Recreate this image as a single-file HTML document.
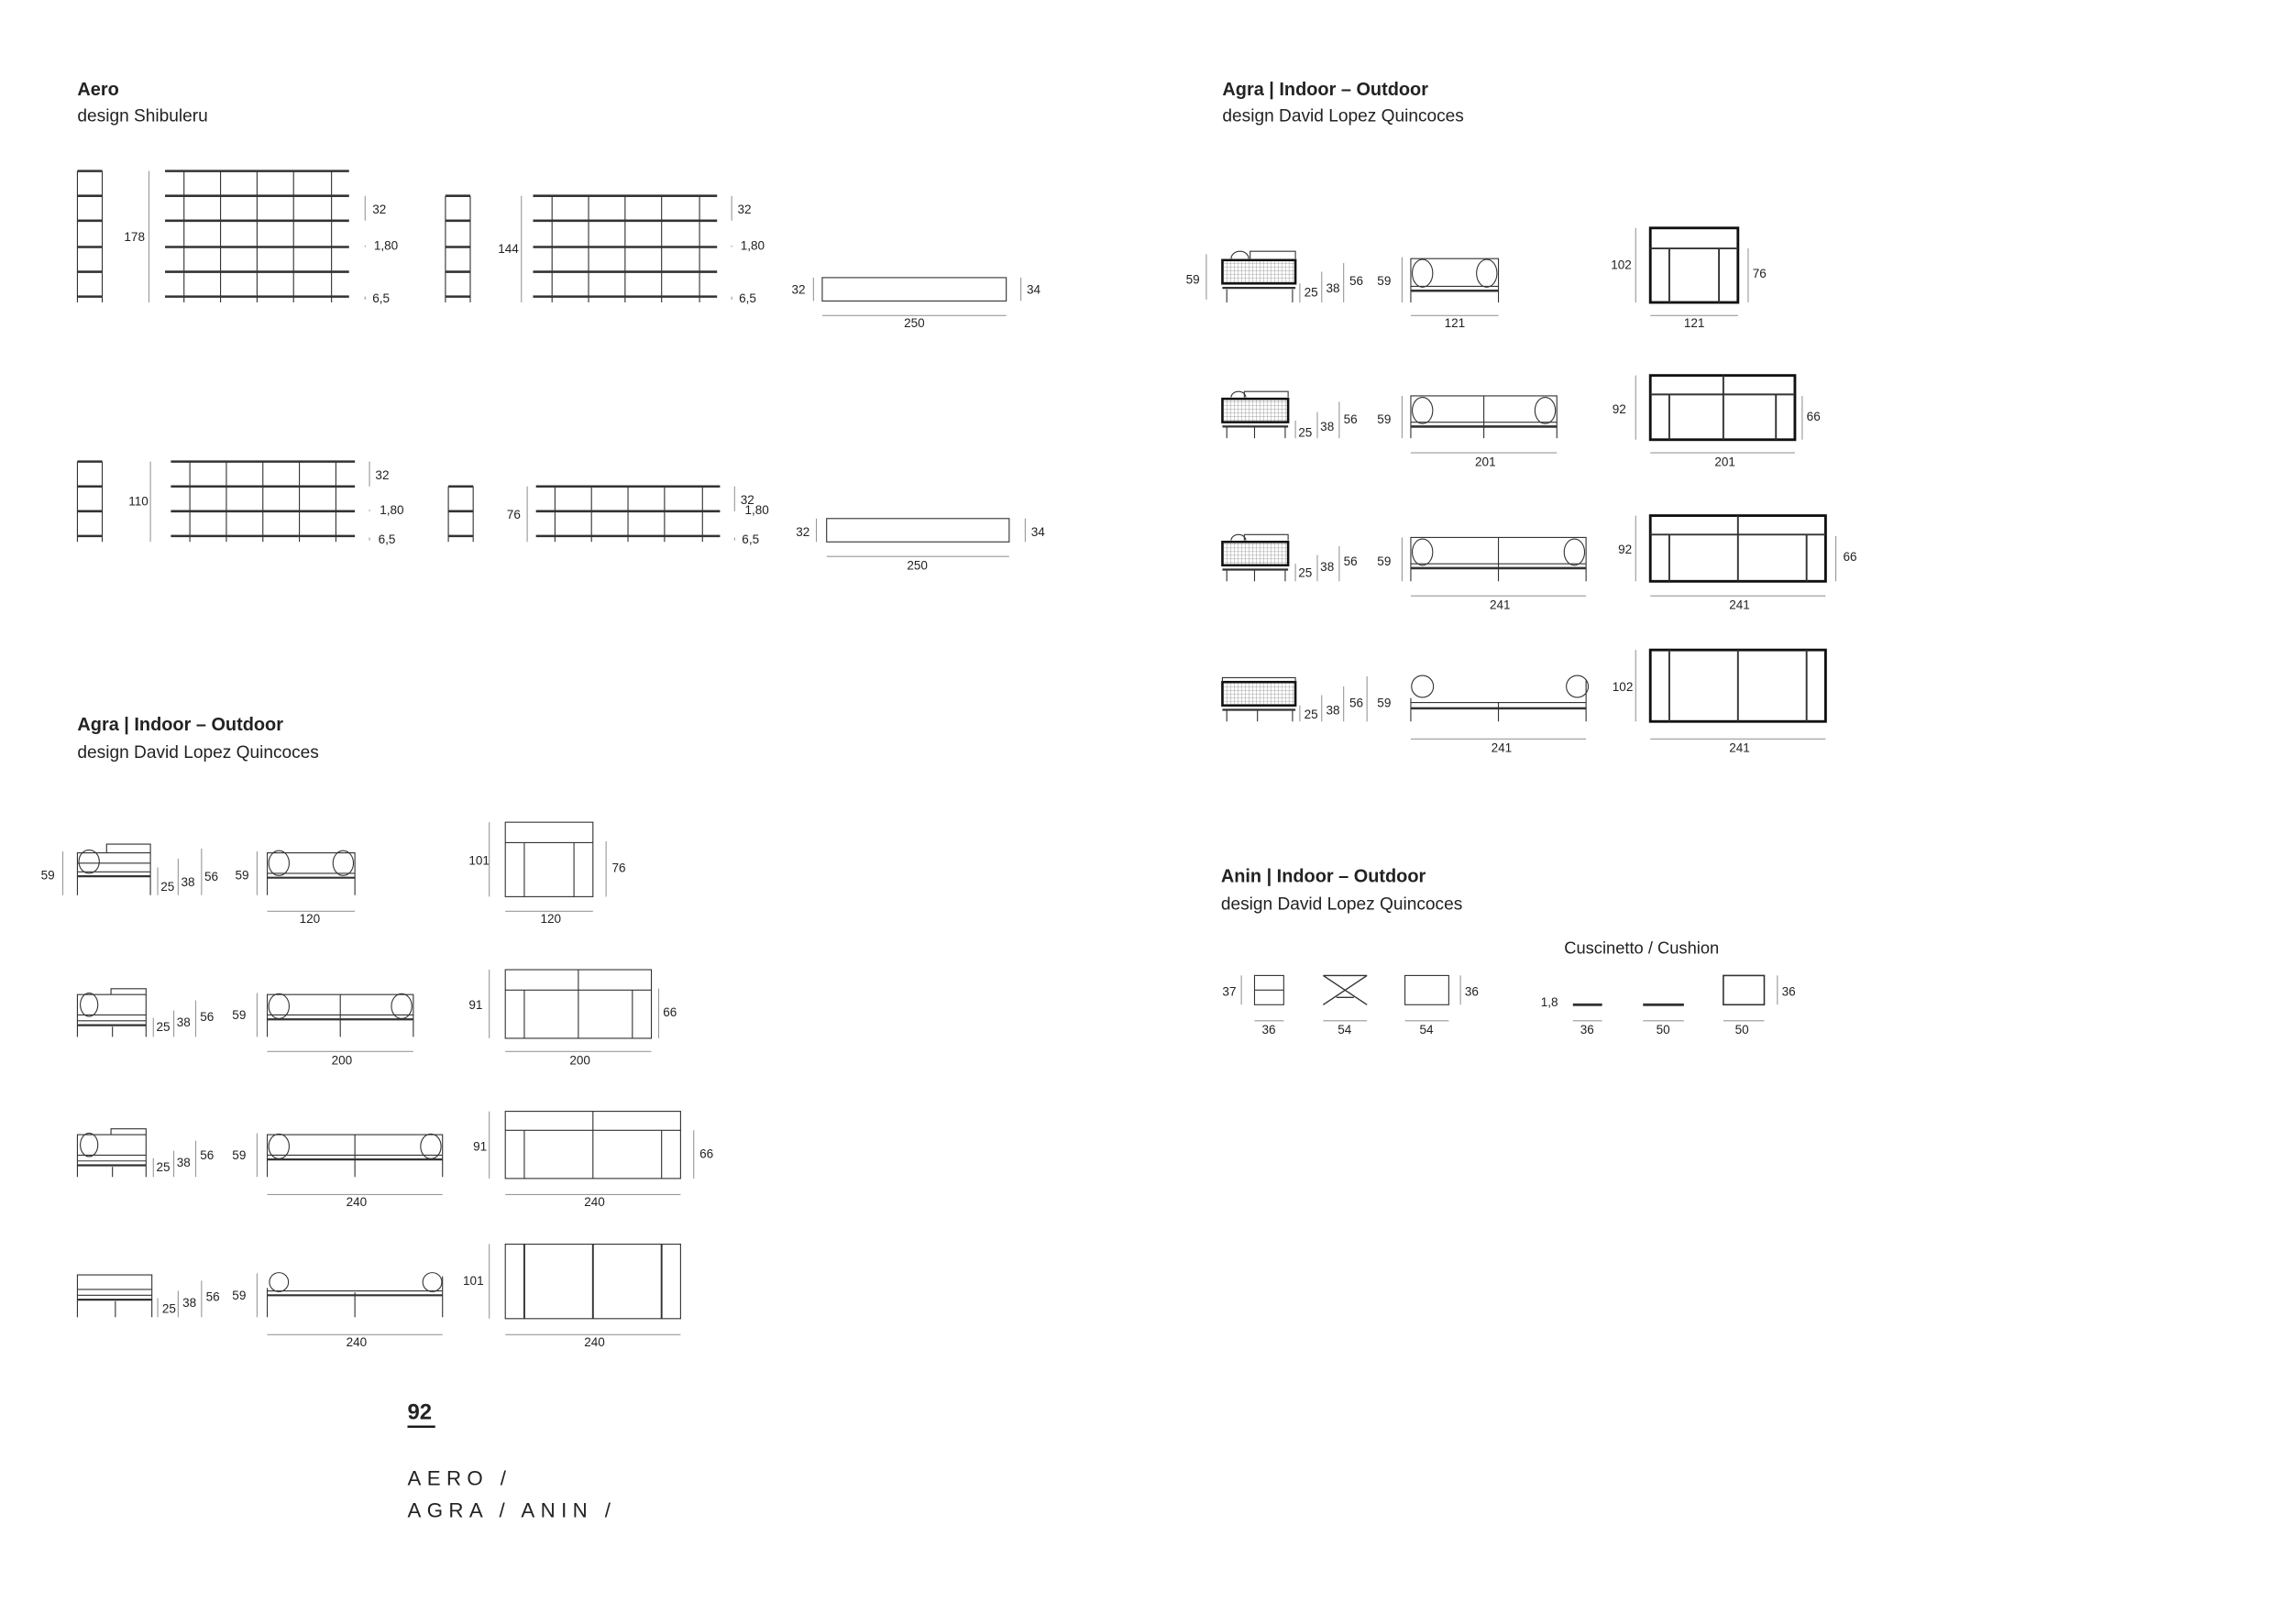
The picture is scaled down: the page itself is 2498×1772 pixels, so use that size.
<!DOCTYPE html>
<html><head><meta charset="utf-8"><style>
html,body{margin:0;padding:0;background:#fff}
svg{display:block}
text{font-family:"Liberation Sans",sans-serif;fill:#222}
.l{font-size:8.5px}
.t{font-size:12.5px;font-weight:bold;fill:#111}
.d{font-size:12px}
</style></head><body>
<svg width="2498" height="1772" viewBox="0 0 1568 1112" xmlns="http://www.w3.org/2000/svg">
<defs>
<pattern id="cane" width="2.5" height="2.5" patternUnits="userSpaceOnUse"><path d="M0 0H2.5M0 0V2.5" stroke="#888" stroke-width="0.5"/></pattern>
</defs>
<g fill="none" stroke="#333" stroke-width="0.7">
<path d="M53 117V207M70 117V207"/>
<path stroke-width="1.6" d="M53 117H70M53 134H70M53 151H70M53 169H70M53 186H70M53 203H70"/>
<path stroke="#999" d="M102 117V207"/>
<path d="M126 117V207M151 117V207M176 117V207M201 117V207M227 117V207"/>
<path stroke-width="1.6" d="M113 117H239M113 134H239M113 151H239M113 169H239M113 186H239M113 203H239"/>
<path stroke="#999" d="M250 134V151M250 168V169M250 203V205"/>
<path d="M305 134V207M322 134V207"/>
<path stroke-width="1.6" d="M305 134H322M305 151H322M305 169H322M305 186H322M305 203H322"/>
<path stroke="#999" d="M357 134V207"/>
<path d="M378 134V207M403 134V207M428 134V207M453 134V207M479 134V207"/>
<path stroke-width="1.6" d="M365 134H491M365 151H491M365 169H491M365 186H491M365 203H491"/>
<path stroke="#999" d="M501 134V151M501 168V169M501 203V205"/>
<rect x="563" y="190" width="126" height="16"/>
<path stroke="#999" d="M557 190V206M699 190V206M563 216H689"/>
<path d="M53 316V371M70 316V371"/>
<path stroke-width="1.6" d="M53 316H70M53 333H70M53 350H70M53 367H70"/>
<path stroke="#999" d="M103 316V371"/>
<path d="M130 316V371M155 316V371M180 316V371M205 316V371M230 316V371"/>
<path stroke-width="1.6" d="M117 316H243M117 333H243M117 350H243M117 367H243"/>
<path stroke="#999" d="M253 316V333M253 349V350M253 368V370"/>
<path d="M307 333V371M324 333V371"/>
<path stroke-width="1.6" d="M307 333H324M307 350H324M307 367H324"/>
<path stroke="#999" d="M361 333V371"/>
<path d="M380 333V371M405 333V371M430 333V371M455 333V371M481 333V371"/>
<path stroke-width="1.6" d="M367 333H493M367 350H493M367 367H493"/>
<path stroke="#999" d="M503 333V350M503 368V370"/>
<rect x="566" y="355" width="125" height="16"/>
<path stroke="#999" d="M559 355V371M702 355V371M566 381H691"/>

<path stroke="#999" d="M826 174V205M890 194V207M905 186V207M920 180V207M960 176V207M966 216H1026M1120 156V207M1197 170V207M1130 216H1190"/>
<rect x="837" y="178" width="50" height="16" fill="url(#cane)" stroke="#111" stroke-width="1.6"/>
<path d="M840 198V207M885 198V207M856 177V172H887V177"/><path d="M843 177a6 5 0 0 1 12 0"/><path stroke-width="1.4" d="M837 197H887"/>
<path d="M966 207V177H1026V207"/><ellipse cx="974" cy="187" rx="7" ry="9.5"/><ellipse cx="1018" cy="187" rx="7" ry="9.5"/><path d="M966 196H1026"/><path stroke-width="1.6" d="M966 199H1026"/>
<rect x="1130" y="156" width="60" height="51" stroke="#111" stroke-width="1.8"/><path stroke-width="1.2" d="M1130 170H1190M1143 170V207M1177 170V207"/>
<path stroke="#999" d="M887 288V300M902 282V300M917 275V300M960 271V300M966 310H1066M1120 257V301M1234 271V301M1130 310H1229"/>
<rect x="837" y="273" width="45" height="16" fill="url(#cane)" stroke="#111" stroke-width="1.6"/>
<path d="M840 292V300M859 292V300M880 292V300M852 272V268H882V272"/><path d="M843 272a5 4 0 0 1 10 0"/><path stroke-width="1.4" d="M837 292H882"/>
<path d="M966 300V271H1066V300M1016 271V300"/><ellipse cx="974" cy="281" rx="7" ry="9"/><ellipse cx="1058" cy="281" rx="7" ry="9"/><path d="M966 289H1066"/><path stroke-width="1.6" d="M966 292H1066"/>
<rect x="1130" y="257" width="99" height="44" stroke="#111" stroke-width="1.8"/><path stroke-width="1.2" d="M1130 270H1229M1143 270V301M1216 270V301M1180 257V301"/>
<path stroke="#999" d="M887 386V398M902 380V398M917 374V398M960 368V398M966 408H1086M1120 353V398M1257 367V398M1130 408H1250"/>
<rect x="837" y="371" width="45" height="16" fill="url(#cane)" stroke="#111" stroke-width="1.6"/>
<path d="M840 390V398M859 390V398M880 390V398M852 370V366H882V370"/><path d="M843 370a5 4 0 0 1 10 0"/><path stroke-width="1.4" d="M837 390H882"/>
<path d="M966 398V368H1086V398M1026 368V398"/><ellipse cx="974" cy="378" rx="7" ry="9"/><ellipse cx="1078" cy="378" rx="7" ry="9"/><path d="M966 386H1086"/><path stroke-width="1.6" d="M966 389H1086"/>
<rect x="1130" y="353" width="120" height="45" stroke="#111" stroke-width="1.8"/><path stroke-width="1.2" d="M1130 366H1250M1143 366V398M1237 366V398M1190 353V398"/>
<path stroke="#999" d="M890 483V494M905 476V494M920 470V494M936 463V494M966 506H1086M1120 445V494M1130 506H1250"/>
<rect x="837" y="467" width="50" height="16" fill="url(#cane)" stroke="#111" stroke-width="1.6"/>
<path d="M840 486V494M861 486V494M885 486V494M837 467V464H887V467"/><path stroke-width="1.4" d="M837 486H887"/>
<path d="M966 494V478M1086 494V466M1026 481V494"/><circle cx="974" cy="470" r="7.5"/><circle cx="1080" cy="470" r="7.5"/><path d="M966 481H1086"/><path stroke-width="1.6" d="M966 485H1086"/>
<rect x="1130" y="445" width="120" height="49" stroke="#111" stroke-width="1.8"/><path stroke-width="1.2" d="M1143 445V494M1237 445V494M1190 445V494"/>

<path stroke="#999" d="M43 583V613M108 594V613M122 588V613M138 581V613M176 583V613M183 624H243M335 563V614M415 576V614M346 624H406"/>
<path d="M53 613V584H103V613M53 591H103M53 597H103M73 584V578H103V584"/><ellipse cx="61" cy="590" rx="7" ry="8"/><path stroke-width="1.4" d="M53 600H103"/>
<path d="M183 613V584H243V613"/><ellipse cx="191" cy="591" rx="7" ry="8.5"/><ellipse cx="235" cy="591" rx="7" ry="8.5"/><path d="M183 598H243"/><path stroke-width="1.4" d="M183 601H243"/>
<rect x="346" y="563" width="60" height="51"/><path d="M346 577H406M359 577V614M393 577V614"/>
<path stroke="#999" d="M105 697V710M119 692V710M134 685V710M176 680V710M183 720H283M335 664V711M451 677V711M346 720H446"/>
<path d="M53 710V681H100V710M53 695H100M53 699H100M76 681V677H100V681M77 703V710"/><ellipse cx="61" cy="688" rx="6" ry="8"/><path stroke-width="1.4" d="M53 702H100"/>
<path d="M183 710V681H283V710M233 681V710"/><ellipse cx="191" cy="689" rx="7" ry="8.5"/><ellipse cx="275" cy="689" rx="7" ry="8.5"/><path d="M183 695H283"/><path stroke-width="1.4" d="M183 698H283"/>
<rect x="346" y="664" width="100" height="47"/><path d="M346 678H446M359 678V711M433 678V711M396 664V711"/>
<path stroke="#999" d="M105 793V806M119 788V806M134 781V806M176 776V806M183 818H303M335 761V807M475 774V807M346 818H466"/>
<path d="M53 806V777H100V806M53 791H100M53 795H100M76 777V773H100V777M77 799V806"/><ellipse cx="61" cy="784" rx="6" ry="8"/><path stroke-width="1.4" d="M53 798H100"/>
<path d="M183 806V777H303V806M243 777V806"/><ellipse cx="191" cy="785" rx="7" ry="8.5"/><ellipse cx="295" cy="785" rx="7" ry="8.5"/><path d="M183 791H303"/><path stroke-width="1.4" d="M183 794H303"/>
<rect x="346" y="761" width="120" height="46"/><path d="M346 774H466M359 774V807M453 774V807M406 761V807"/>
<path stroke="#999" d="M108 889V902M122 884V902M138 877V902M176 872V902M183 914H303M335 852V903M346 914H466"/>
<path d="M53 902V873H104V902M53 883H104M53 887H104M79 891V902"/><path stroke-width="1.4" d="M53 890H104"/>
<path d="M183 902V882M303 902V874M243 885V902"/><circle cx="191" cy="878" r="6.5"/><circle cx="296" cy="878" r="6.5"/><path d="M183 884H303"/><path stroke-width="1.4" d="M183 887H303"/>
<rect x="346" y="852" width="120" height="51"/><path stroke-width="1.2" d="M359 852V903M453 852V903M406 852V903"/>

<path stroke="#999" d="M850 668V688M1000 668V688M859 699H879M906 699H936M962 699H992M1077 699H1097M1125 699H1153M1180 699H1208M1217 668V688"/>
<rect x="859" y="668" width="20" height="20"/><path d="M859 678H879"/>
<path d="M906 688L936 668M906 668L936 688M906 668H936M915 683H927" stroke-width="0.9"/>
<rect x="962" y="668" width="30" height="20"/>
<path stroke-width="1.8" d="M1077 688H1097M1125 688H1153"/>
<rect x="1180" y="668" width="28" height="20" stroke-width="1"/>
</g>
<path d="M279 977H298" stroke="#111" stroke-width="1.5"/>

<g class="t">
<text x="53" y="65">Aero</text>
<text x="837" y="65">Agra | Indoor – Outdoor</text>
<text x="53" y="500">Agra | Indoor – Outdoor</text>
<text x="836" y="604">Anin | Indoor – Outdoor</text>
<text x="279" y="972" style="font-size:15px">92</text>
</g>
<g class="d">
<text x="53" y="83">design Shibuleru</text>
<text x="837" y="83">design David Lopez Quincoces</text>
<text x="53" y="519">design David Lopez Quincoces</text>
<text x="836" y="623">design David Lopez Quincoces</text>
<text x="1071" y="653" style="font-size:11.5px">Cuscinetto / Cushion</text>
</g>
<g style="font-size:14px;letter-spacing:4px;font-family:'Liberation Sans',sans-serif">
<text x="279" y="1017">AERO /</text>
<text x="279" y="1039">AGRA / ANIN /</text>
</g>
<g class="l">
<text x="85" y="165">178</text><text x="255" y="146">32</text><text x="256" y="171">1,80</text><text x="255" y="207">6,5</text>
<text x="341" y="173">144</text><text x="505" y="146">32</text><text x="507" y="171">1,80</text><text x="506" y="207">6,5</text>
<text x="542" y="201">32</text><text x="703" y="201">34</text><text x="619" y="224">250</text>
<text x="88" y="346">110</text><text x="257" y="328">32</text><text x="260" y="352">1,80</text><text x="259" y="372">6,5</text>
<text x="347" y="355">76</text><text x="507" y="345">32</text><text x="510" y="352">1,80</text><text x="508" y="372">6,5</text>
<text x="545" y="367">32</text><text x="706" y="367">34</text><text x="621" y="390">250</text>
<text x="812" y="194">59</text><text x="893" y="203">25</text><text x="908" y="200">38</text><text x="924" y="195">56</text><text x="943" y="195">59</text>
<text x="989" y="224">121</text><text x="1103" y="184">102</text><text x="1200" y="190">76</text><text x="1153" y="224">121</text>
<text x="889" y="299">25</text><text x="904" y="295">38</text><text x="920" y="290">56</text><text x="943" y="290">59</text>
<text x="1010" y="319">201</text><text x="1104" y="283">92</text><text x="1237" y="288">66</text><text x="1174" y="319">201</text>
<text x="889" y="395">25</text><text x="904" y="391">38</text><text x="920" y="387">56</text><text x="943" y="387">59</text>
<text x="1020" y="417">241</text><text x="1108" y="379">92</text><text x="1262" y="384">66</text><text x="1184" y="417">241</text>
<text x="893" y="492">25</text><text x="908" y="489">38</text><text x="924" y="484">56</text><text x="943" y="484">59</text>
<text x="1021" y="515">241</text><text x="1104" y="473">102</text><text x="1184" y="515">241</text>
<text x="28" y="602">59</text><text x="110" y="610">25</text><text x="124" y="607">38</text><text x="140" y="603">56</text><text x="161" y="602">59</text>
<text x="205" y="632">120</text><text x="321" y="592">101</text><text x="419" y="597">76</text><text x="370" y="632">120</text>
<text x="107" y="706">25</text><text x="121" y="703">38</text><text x="137" y="699">56</text><text x="159" y="698">59</text>
<text x="227" y="729">200</text><text x="321" y="691">91</text><text x="454" y="696">66</text><text x="390" y="729">200</text>
<text x="107" y="802">25</text><text x="121" y="799">38</text><text x="137" y="794">56</text><text x="159" y="794">59</text>
<text x="237" y="826">240</text><text x="324" y="788">91</text><text x="479" y="793">66</text><text x="400" y="826">240</text>
<text x="111" y="899">25</text><text x="125" y="895">38</text><text x="141" y="891">56</text><text x="159" y="890">59</text>
<text x="237" y="922">240</text><text x="317" y="880">101</text><text x="400" y="922">240</text>
<text x="837" y="682">37</text><text x="1003" y="682">36</text>
<text x="864" y="708">36</text><text x="916" y="708">54</text><text x="972" y="708">54</text>
<text x="1055" y="689">1,8</text><text x="1220" y="682">36</text>
<text x="1082" y="708">36</text><text x="1134" y="708">50</text><text x="1188" y="708">50</text>
</g>
</svg>
</body></html>
